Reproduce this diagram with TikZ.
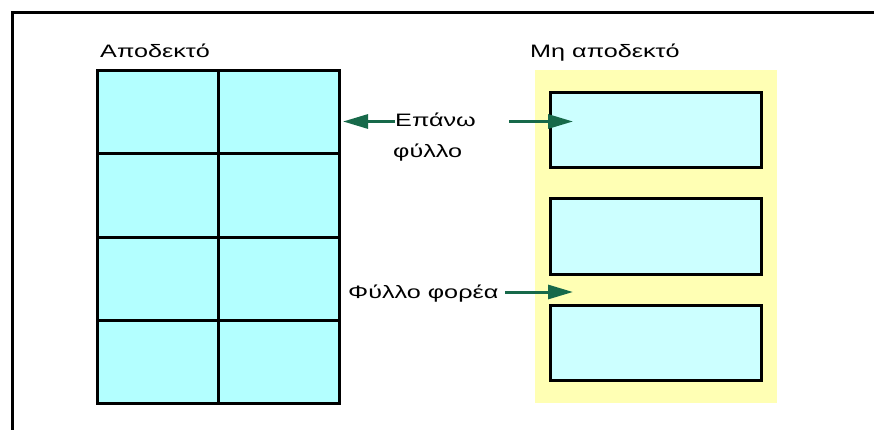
\documentclass[tikz,border=0pt]{standalone}
\usepackage{fontspec}
\setmainfont{Liberation Sans}
\newfontfamily\widesans[FakeStretch=1.4]{Liberation Sans}
\usetikzlibrary{arrows.meta}
\definecolor{gridcyan}{HTML}{B3FFFF}
\definecolor{boxcyan}{HTML}{CCFFFF}
\definecolor{paleyellow}{HTML}{FFFFB4}
\definecolor{arrowgreen}{HTML}{17694A}
\begin{document}
\begin{tikzpicture}[x=1pt,y=-1pt,
  lbl/.style={font=\widesans\fontsize{18}{21}\selectfont, inner sep=0pt, anchor=base west},
  cell/.style={fill=gridcyan, draw=black, line width=3pt},
  sheet/.style={fill=boxcyan, draw=black, line width=3pt},
  pointer/.style={draw=arrowgreen, line width=3pt, -{Triangle[length=25pt,width=14pt]}}]
\useasboundingbox (0,0) rectangle (874,430);
% frame
\draw[line width=3pt] (874,13) -- (12,13) -- (12,431);
% titles
\node[lbl] (acc) at (100,58) {Αποδεκτό};
\node[lbl] (nacc) at (530,58) {Μη αποδεκτό};
% left grid
\foreach \r in {0,1,2,3} {
  \foreach \c in {0,1} {
    \draw[cell] ({97+\c*121},{71+\r*83}) rectangle ({97+(\c+1)*121},{71+(\r+1)*83});
  }
}
\coordinate (gridR) at (343,121.5);
% right panel
\fill[paleyellow] (535,70) rectangle (777,403);
\draw[sheet] (550,93) rectangle (761,168);
\draw[sheet] (550,199) rectangle (761,274);
\draw[sheet] (550,305) rectangle (761,380);
% labels
\node[lbl] (top1) at (395,127) {Επάνω};
\node[lbl] (top2) at (393,158) {φύλλο};
\node[lbl] (carrier) at (348,298) {Φύλλο φορέα};
\coordinate (a2s) at (509,121.5);
\coordinate (a2e) at (573,121.5);
\coordinate (a3s) at (505,292);
\coordinate (a3e) at (573,292);
\draw[pointer] (top1.west |- gridR) -- (gridR);
\draw[pointer] (a2s) -- (a2e);
\draw[pointer] (a3s) -- (a3e);
\end{tikzpicture}
\end{document}
